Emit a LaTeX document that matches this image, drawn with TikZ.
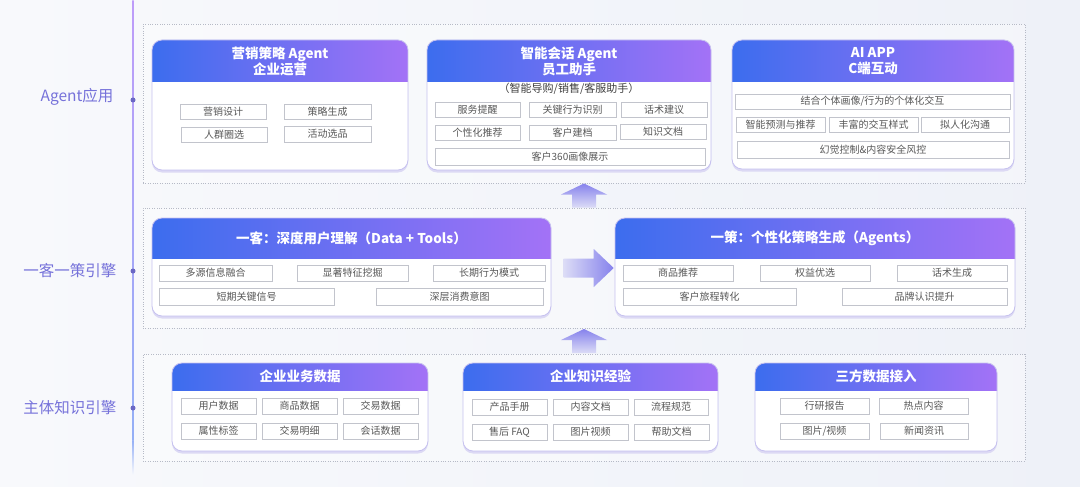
\documentclass[tikz,border=0pt]{standalone}
\usepackage{fontspec}
\setmainfont{Noto Sans CJK SC}
\usetikzlibrary{calc}
\definecolor{hblue}{HTML}{3C6DEE}
\definecolor{hpurple}{HTML}{A372F6}
\definecolor{bgl}{HTML}{F8F9FC}
\definecolor{bgr}{HTML}{EEF1F8}
\definecolor{zonegray}{HTML}{B6BAC6}
\definecolor{cardline}{HTML}{C6C1EF}
\definecolor{cardshadow}{HTML}{DCD9F4}
\definecolor{itemline}{HTML}{C2C4CC}
\definecolor{itemtext}{HTML}{585858}
\definecolor{lanetext}{HTML}{7672DA}
\definecolor{arrdark}{HTML}{8682EC}
\definecolor{arrlight}{HTML}{DCDCF6}
\tikzset{
  zonebox/.style={draw=zonegray, line width=0.9pt, dash pattern=on 0.9pt off 1.5pt, fill=white, fill opacity=0.35, draw opacity=1, inner sep=0pt},
  itembox/.style={draw=itemline, line width=0.6pt, fill=white, inner sep=0pt, text=itemtext, font=\fontsize{10}{12}\selectfont},
  cardtitle/.style={text=white, align=center, font=\bfseries\fontsize{13.5}{16}\selectfont},
  lanelabel/.style={text=lanetext, anchor=east, font=\fontsize{15.5}{18}\selectfont},
  tdot/.style={circle, fill=lanetext!90!black, inner sep=0pt, minimum size=5pt}
}
\def\zone(#1)(#2,#3)(#4,#5){\node[zonebox, minimum width={#4-#2}, minimum height={#5-#3}] (#1) at ({(#2+#4)/2},{(#3+#5)/2}) {};}
\def\itm(#1)(#2,#3)(#4,#5)#6{\node[itembox, minimum width={#4-#2}, minimum height={#5-#3}] (#1) at ({(#2+#4)/2},{(#3+#5)/2}) {#6};}
\def\card(#1)(#2,#3)(#4,#5)(#6)#7{%
  \fill[cardshadow, rounded corners=10] (#2,#3+2) rectangle (#4,#5+2.5);
  \begin{scope}
    \clip[rounded corners=10] (#2,#3) rectangle (#4,#5);
    \fill[white] (#2,#3) rectangle (#4,#5);
    \shade[left color=hblue, right color=hpurple] (#2,#3) rectangle (#4,#6);
  \end{scope}
  \draw[cardline, line width=0.8pt, rounded corners=10] (#2,#3) rectangle (#4,#5);
  \node[cardtitle] (#1) at ({(#2+#4)/2},{(#3+#6)/2}) {#7};
}
% block arrows round a named coordinate
\def\uparr(#1){\shade[top color=arrdark, bottom color=arrlight] ($(#1)+(-12,12)$) -- ($(#1)+(-12,-1)$) -- ($(#1)+(-23,-1)$) -- ($(#1)+(0,-12)$) -- ($(#1)+(23,-1)$) -- ($(#1)+(12,-1)$) -- ($(#1)+(12,12)$) -- cycle;}
\def\rightarr(#1){\shade[left color=arrlight, right color=arrdark] ($(#1)+(-25,-9.5)$) -- ($(#1)+(5,-9.5)$) -- ($(#1)+(5,-19)$) -- ($(#1)+(25,0)$) -- ($(#1)+(5,19)$) -- ($(#1)+(5,9.5)$) -- ($(#1)+(-25,9.5)$) -- cycle;}

\begin{document}
\begin{tikzpicture}[x=1pt, y=-1pt]
  %%%%% START %%%%%
  \useasboundingbox (0,0) rectangle (1080,487);
  \shade[left color=bgl, right color=bgr] (0,0) rectangle (1080,487);

  % timeline
  \shade[top color=hpurple!70, bottom color=hblue!55] (132.4,0) rectangle (133.6,440);
  \shade[top color=hblue!55, bottom color=bgl] (132.4,440) rectangle (133.6,475);
  \node[tdot] (d1) at (133,100) {};
  \node[tdot] (d2) at (133,271) {};
  \node[tdot] (d3) at (133,408) {};
  \node[lanelabel] (l1) at (117,97) {Agent应用};
  \node[lanelabel] (l2) at (120,271) {一客一策引擎};
  \node[lanelabel] (l3) at (120,408) {主体知识引擎};

  % zones
  \zone(appzone)(143,24)(1025,183)
  \zone(enginezone)(143,208)(1025,328)
  \zone(knowzone)(143,354)(1025,461)

  \coordinate (up1) at ($(enginezone.north)!0.5!(appzone.south)$);
  \coordinate (up2) at ($(knowzone.north)!0.5!(enginezone.south)$);
  \uparr(up1)
  \uparr(up2)

  % Agent
  \card(mkt)(152,40)(408,170)(82){营销策略 Agent\\企业运营}
  \itm(m1)(180,104)(266,119){营销设计}
  \itm(m2)(284,104)(371,119){策略生成}
  \itm(m3)(181,127)(267,142){人群圈选}
  \itm(m4)(284,126)(371,142){活动选品}

  \card(chat)(427,40)(711,170)(82){智能会话 Agent\\员工助手}
  \node[text=black!75, font=\fontsize{11}{13}\selectfont] (chatsub) at (569,89) {（智能导购/销售/客服助手）};
  \itm(c1)(435,102)(520,117){服务提醒}
  \itm(c2)(529,102)(616,117){关键行为识别}
  \itm(c3)(621,102)(707,117){话术建议}
  \itm(c4)(435,125)(520,140){个性化推荐}
  \itm(c5)(529,125)(616,140){客户建档}
  \itm(c6)(620,124)(706,139){知识文档}
  \itm(c7)(435,148)(705,165){客户360画像展示}

  \card(app)(732,40)(1014,169)(82){AI APP\\C端互动}
  \itm(a1)(735,94)(1010,109){结合个体画像/行为的个体化交互}
  \itm(a2)(736,117)(825,132){智能预测与推荐}
  \itm(a3)(829,117)(918,132){丰富的交互样式}
  \itm(a4)(921,117)(1009,132){拟人化沟通}
  \itm(a5)(737,141)(1009,158){幻觉控制\&内容安全风控}

  % engine
  \card(cust)(152,218)(551,316)(258){一客：深度用户理解（Data + Tools）}
  \itm(u1)(159,265)(272,281){多源信息融合}
  \itm(u2)(297,265)(408,281){显著特征挖掘}
  \itm(u3)(433,265)(545,281){长期行为模式}
  \itm(u4)(159,288)(334,305){短期关键信号}
  \itm(u5)(376,288)(543,305){深层消费意图}

  \card(strat)(615,218)(1015,316)(258){一策：个性化策略生成（Agents）}
  \itm(s1)(623,265)(733,281){商品推荐}
  \itm(s2)(760,265)(870,281){权益优选}
  \itm(s3)(897,265)(1007,281){话术生成}
  \itm(s4)(623,288)(796,305){客户旅程转化}
  \itm(s5)(842,288)(1007,305){品牌认识提升}

  \coordinate (right1) at ($(cust.east |- 0,268)!0.5!(strat.west |- 0,268)$);
  \rightarr(right1)

  % knowledge
  \card(biz)(172,363)(428,451)(390){企业业务数据}
  \itm(b1)(181,398)(256,414){用户数据}
  \itm(b2)(262,398)(337,414){商品数据}
  \itm(b3)(343,398)(418,414){交易数据}
  \itm(b4)(181,423)(256,439){属性标签}
  \itm(b5)(262,423)(337,439){交易明细}
  \itm(b6)(343,423)(418,439){会话数据}

  \card(exp)(463,363)(718,451)(390){企业知识经验}
  \itm(e1)(472,399)(547,415){产品手册}
  \itm(e2)(553,399)(628,415){内容文档}
  \itm(e3)(634,399)(708,415){流程规范}
  \itm(e4)(472,424)(547,440){售后 FAQ}
  \itm(e5)(553,424)(628,440){图片视频}
  \itm(e6)(634,424)(709,440){帮助文档}

  \card(ext)(755,363)(997,451)(390){三方数据接入}
  \itm(x1)(780,398)(869,414){行研报告}
  \itm(x2)(879,398)(968,414){热点内容}
  \itm(x3)(780,423)(869,439){图片/视频}
  \itm(x4)(880,423)(968,439){新闻资讯}
  %%%%% END %%%%%
\end{tikzpicture}
\end{document}
